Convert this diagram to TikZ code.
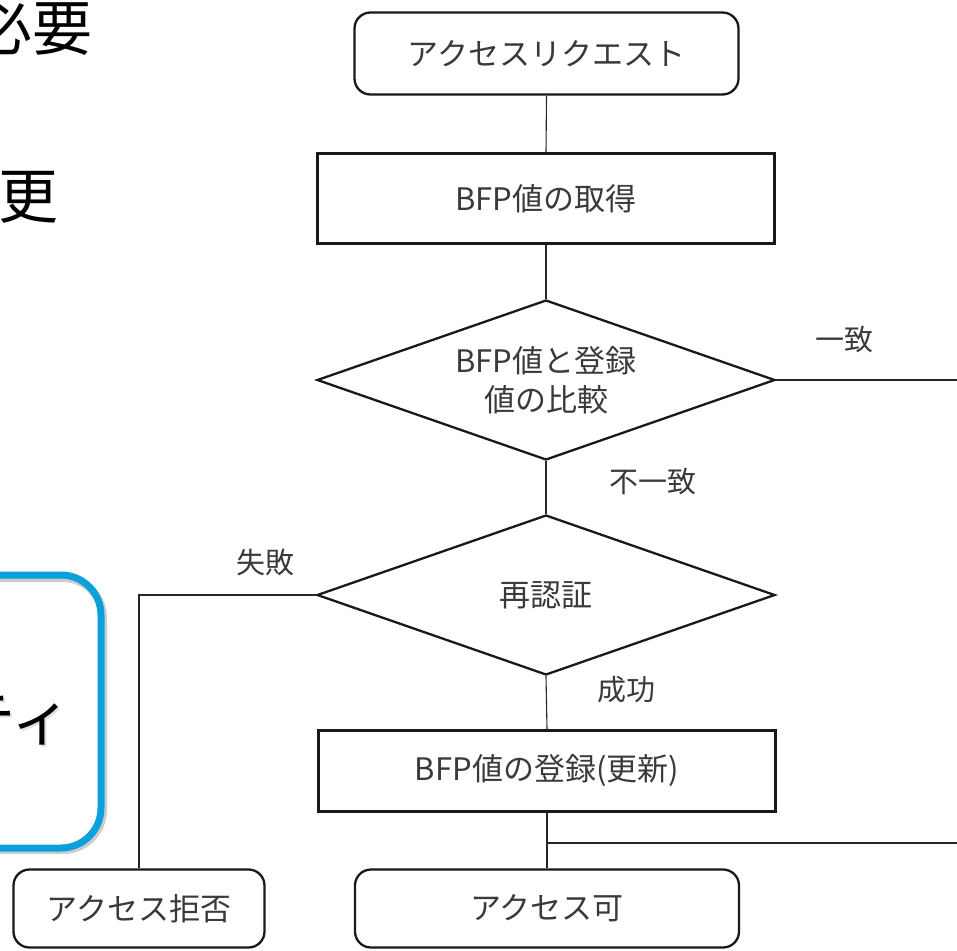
\documentclass[tikz,border=0pt]{standalone}
\usepackage{fontspec}
\setmainfont{Noto Sans CJK JP}
\usetikzlibrary{shapes.geometric}
\definecolor{fc}{HTML}{3A3A3A}
\definecolor{bl}{HTML}{0AA0DC}
\begin{document}
\begin{tikzpicture}[x=1pt,y=-1pt,
  box/.style={draw=black!90, line width=2.3pt, text=fc, font=\fontsize{31}{39}\selectfont, inner sep=0pt, align=center},
  term/.style={box, rounded corners=16pt},
  proc/.style={box},
  dec/.style={box, shape=diamond, shape aspect=2.86, minimum width=458pt, minimum height=160pt},
  conn/.style={draw=black!85, line width=1.1pt},
  lbl/.style={text=fc, font=\fontsize{29}{34}\selectfont, inner sep=0pt},
  big/.style={text=black, font=\fontsize{60}{70}\selectfont, inner sep=0pt}
]
\useasboundingbox (0,0) rectangle (957,950);
\clip (0,0) rectangle (957,950);

% left partial content
\node[big, anchor=base east] (t1) at (93,51) {必要};
\node[big, anchor=base west] (t2) at (-2,218) {更};
\draw[black, opacity=0.2, line width=8pt, rounded corners=40pt] (-200,578) rectangle (103,850);
\draw[bl, line width=7pt, rounded corners=40pt] (-200,575) rectangle (101,848);
\node[big, anchor=base west, text=black!50, opacity=0.25] (t3s) at (-43,742) {ティ};
\node[big, anchor=base west] (t3) at (-45,740) {ティ};

% flowchart nodes
\node[term, minimum width=384pt, minimum height=82pt] (req) at (546.5,53.5) {アクセスリクエスト};
\node[proc, minimum width=457pt, minimum height=90pt] (get) at (546,198.5) {BFP値の取得};
\node[dec] (cmp) at (546,380) {BFP値と登録\\値の比較};
\node[dec] (re) at (546,595) {再認証};
\node[proc, minimum width=457pt, minimum height=81pt] (reg) at (547,771) {BFP値の登録(更新)};
\node[term, minimum width=384pt, minimum height=78pt] (ok) at (547,908.5) {アクセス可};
\node[term, minimum width=251pt, minimum height=78pt] (ng) at (139,908.5) {アクセス拒否};

\coordinate (e1) at (965,380);
\coordinate (j) at (546,843);
\coordinate (e2) at (965,843);

% connectors
\draw[conn] (req.south) -- (get.north);
\draw[conn] (get.south) -- (cmp.north);
\draw[conn] (cmp.east) -- (e1);
\draw[conn] (cmp.south) -- (re.north);
\draw[conn] (re.south) -- (reg.north);
\draw[conn] (reg.south) -- (ok.north);
\draw[conn] (j) -- (e2);
\draw[conn] (re.west) -| (ng.north);

% labels
\node[lbl] (l1) at (844,340) {一致};
\node[lbl] (l2) at (653,482) {不一致};
\node[lbl] (l3) at (265,562) {失敗};
\node[lbl] (l4) at (626,690) {成功};
\end{tikzpicture}
\end{document}
